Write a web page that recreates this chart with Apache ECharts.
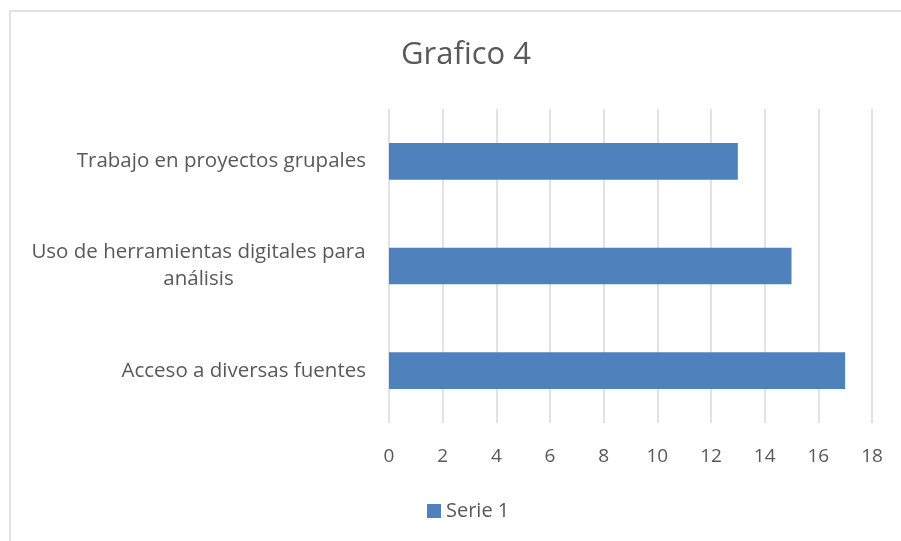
<!DOCTYPE html>
<html>
<head>
<meta charset="utf-8">
<script src="https://cdn.jsdelivr.net/npm/echarts@6/dist/echarts.min.js"></script>
<style>
  html, body { margin: 0; padding: 0; background: #fff; }
  #chart { width: 901px; height: 541px; }
</style>
</head>
<body>
<div id="chart"></div>
<script>
  // datos (de abajo hacia arriba)
  var categories = ['Acceso a diversas fuentes', 'Uso de herramientas digitales para\nanálisis', 'Trabajo en proyectos grupales'];
  var serie1 = [17, 15, 13];
  var seriesName = 'Serie 1';
  var titleText = 'Grafico 4';

  var font = 'Open Sans';
  var textColor = '#595959';
  var catSize = 20.5;
  var tickSize = 19;

  // ancho de la linea mas larga, para centrar la segunda linea debajo
  function textWidth(s, size) {
    var c = document.createElement('canvas').getContext('2d');
    c.font = size + 'px "' + font + '"';
    return Math.ceil(c.measureText(s).width);
  }

  var chart = echarts.init(document.getElementById('chart'));
  var option = {
    backgroundColor: '#fff',
    animation: false,
    textStyle: { fontFamily: font },
    title: {
      text: titleText,
      left: 461,
      top: 35,
      textAlign: 'center',
      textStyle: { fontFamily: font, fontSize: 31, fontWeight: 'normal', color: textColor }
    },
    // marco del grafico
    graphic: [{
      type: 'rect',
      shape: { x: 10, y: 11, width: 900, height: 540 },
      style: { fill: 'none', stroke: '#d9d9d9', lineWidth: 1.5 },
      silent: true
    }],
    legend: {
      top: 496,
      left: 422,
      itemWidth: 14,
      itemHeight: 14,
      itemGap: 6,
      icon: 'rect',
      textStyle: { fontFamily: font, fontSize: 20, color: textColor },
      data: [seriesName]
    },
    grid: { left: 389, right: 29, top: 109, bottom: 118 },
    xAxis: {
      type: 'value',
      min: 0,
      max: 18,
      interval: 2,
      axisLine: { show: false },
      axisTick: { show: false },
      axisLabel: { color: textColor, fontSize: tickSize, margin: 24, fontFamily: font },
      splitLine: { show: true, lineStyle: { color: '#d9d9d9', width: 1.5 } }
    },
    yAxis: {
      type: 'category',
      data: categories,
      axisLine: { show: false },
      axisTick: { show: false },
      axisLabel: {
        color: textColor,
        fontSize: catSize,
        margin: 23,
        fontFamily: font,
        lineHeight: 27,
        formatter: function (v) {
          if (v.indexOf('\n') < 0) return v;
          return v.split('\n').map(function (p) { return '{c|' + p + '}'; }).join('\n');
        },
        rich: {
          c: {
            width: textWidth(categories[1].split('\n')[0], catSize),
            align: 'center', fontSize: catSize, color: textColor, fontFamily: font, lineHeight: 27
          }
        }
      }
    },
    series: [{
      name: seriesName,
      type: 'bar',
      data: serie1,
      barCategoryGap: '65%',
      itemStyle: { color: '#4f81bd' }
    }]
  };
  chart.setOption(option);
</script>
</body>
</html>
